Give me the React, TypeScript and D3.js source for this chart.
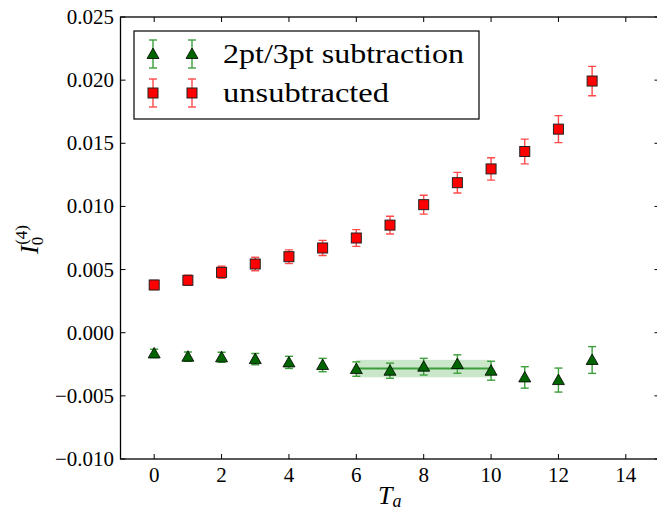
import React from 'react';
import * as d3 from 'd3';

const tValues = [0, 1, 2, 3, 4, 5, 6, 7, 8, 9, 10, 11, 12, 13];
const subtracted = [-0.00164, -0.0019, -0.00195, -0.00209, -0.00235, -0.00256, -0.00288, -0.00301, -0.00269, -0.00248, -0.00301, -0.00354, -0.00375, -0.00216];
const subtractedErr = [0.00033, 0.00037, 0.0004, 0.00045, 0.00048, 0.00053, 0.00057, 0.0006, 0.00066, 0.00073, 0.00075, 0.00085, 0.00095, 0.00106];
const unsubtracted = [0.00378, 0.00415, 0.00478, 0.00544, 0.00602, 0.00671, 0.0075, 0.00852, 0.01014, 0.01188, 0.01297, 0.01435, 0.01612, 0.01993];
const unsubtractedErr = [0.00036, 0.0004, 0.00048, 0.00053, 0.00054, 0.0006, 0.00066, 0.0007, 0.00075, 0.00082, 0.00089, 0.00098, 0.00107, 0.00116];
const fitRange = [6, 10];
const fitValue = -0.00284;
const fitErr = 0.00069;
const xTicks = [0, 2, 4, 6, 8, 10, 12, 14];
const yTicks = [-0.01, -0.005, 0, 0.005, 0.01, 0.015, 0.02, 0.025];
const legendLabels = ['2pt/3pt subtraction', 'unsubtracted'];

const W = 657;
const H = 511;
const font = 'Liberation Serif';

const App = () => {
  const x = d3.scaleLinear().domain([-1, 15]).range([120.5, 659.5]);
  const y = d3.scaleLinear().domain([-0.01, 0.025]).range([459, 17]);
  const [x0, x1] = x.range();
  const [yb, yt] = y.range();

  const fmtY = (v: number) => (v < 0 ? '\u2212' : '') + Math.abs(v).toFixed(3);

  const tri = (cx: number, cy: number, s = 6) =>
    `M${cx},${cy - s} L${cx + s},${cy + s * 0.75} L${cx - s},${cy + s * 0.75} Z`;

  const errBar = (cx: number, lo: number, hi: number, color: string, key: string) => (
    <g key={key} stroke={color} strokeWidth={1.4}>
      <line x1={cx} x2={cx} y1={lo} y2={hi} />
      <line x1={cx - 4} x2={cx + 4} y1={lo} y2={lo} />
      <line x1={cx - 4} x2={cx + 4} y1={hi} y2={hi} />
    </g>
  );

  const greenErr = '#3c9e3c';
  const redErr = '#ff4a4a';

  return (
    <svg width={W} height={H} style={{ position: 'absolute', left: 0, top: 0 }}>
      <rect width={W} height={H} fill="#fff" />
      <defs>
        <clipPath id="plot">
          <rect x={x0} y={yt} width={x1 - x0} height={yb - yt} />
        </clipPath>
      </defs>

      <g clipPath="url(#plot)">
        {/* fit band */}
        <rect
          x={x(fitRange[0])}
          y={y(fitValue + fitErr)}
          width={x(fitRange[1]) - x(fitRange[0])}
          height={y(fitValue - fitErr) - y(fitValue + fitErr)}
          fill="#2ca02c"
          fillOpacity={0.25}
        />
        <line
          x1={x(fitRange[0])}
          x2={x(fitRange[1])}
          y1={y(fitValue)}
          y2={y(fitValue)}
          stroke="#3c9e3c"
          strokeWidth={2}
        />

        {tValues.map((t, i) =>
          errBar(x(t), y(subtracted[i] - subtractedErr[i]), y(subtracted[i] + subtractedErr[i]), greenErr, 'ge' + i)
        )}
        {tValues.map((t, i) => (
          <path key={'gm' + i} d={tri(x(t), y(subtracted[i]))} fill="#006400" stroke="#000" strokeWidth={0.8} />
        ))}

        {tValues.map((t, i) =>
          errBar(x(t), y(unsubtracted[i] - unsubtractedErr[i]), y(unsubtracted[i] + unsubtractedErr[i]), redErr, 're' + i)
        )}
        {tValues.map((t, i) => (
          <rect
            key={'rm' + i}
            x={x(t) - 5}
            y={y(unsubtracted[i]) - 5}
            width={10}
            height={10}
            fill="#ff0000"
            stroke="#222"
            strokeWidth={1}
          />
        ))}
      </g>

      {/* frame */}
      <rect x={x0} y={yt} width={x1 - x0} height={yb - yt} fill="none" stroke="#000" strokeWidth={1.3} />

      {/* ticks */}
      {xTicks.map((t) => (
        <g key={'xt' + t}>
          <line x1={x(t)} x2={x(t)} y1={yb} y2={yb - 5} stroke="#000" />
          <line x1={x(t)} x2={x(t)} y1={yt} y2={yt + 5} stroke="#000" />
          <text x={x(t)} y={482} textAnchor="middle" fontFamily={font} fontSize={21}>
            {t}
          </text>
        </g>
      ))}
      {yTicks.map((v) => (
        <g key={'yt' + v}>
          <line x1={x0} x2={x0 + 5} y1={y(v)} y2={y(v)} stroke="#000" />
          <line x1={x1} x2={x1 - 5} y1={y(v)} y2={y(v)} stroke="#000" />
          <text x={114} y={y(v) + 7} textAnchor="end" fontFamily={font} fontSize={21}>
            {fmtY(v)}
          </text>
        </g>
      ))}

      {/* axis labels */}
      <text x={378} y={504} fontFamily={font} fontSize={26} fontStyle="italic">
        T<tspan fontSize={18} dy={3}>a</tspan>
      </text>
      <text transform="translate(38,254) rotate(-90)" fontFamily={font} fontSize={26} fontStyle="italic">
        I
        <tspan fontSize={17} fontStyle="normal" dy={5}>0</tspan>
        <tspan fontSize={17} fontStyle="normal" dx={-8} dy={-16}>(4)</tspan>
      </text>

      {/* legend */}
      <rect x={134} y={31} width={345} height={88} fill="#fff" stroke="#000" strokeWidth={1.2} />
      {[153, 192].map((lx) => (
        <g key={'lg' + lx}>
          {errBar(lx, 54 + 14, 54 - 14, greenErr, 'lge' + lx)}
          <path d={tri(lx, 54)} fill="#006400" stroke="#000" strokeWidth={0.8} />
          {errBar(lx, 93 + 14, 93 - 14, redErr, 'lre' + lx)}
          <rect x={lx - 5} y={88} width={10} height={10} fill="#ff0000" stroke="#222" strokeWidth={1} />
        </g>
      ))}
      <text x={223} y={63} fontFamily={font} fontSize={27} textLength={241} lengthAdjust="spacingAndGlyphs">
        {legendLabels[0]}
      </text>
      <text x={223} y={102} fontFamily={font} fontSize={27} textLength={166} lengthAdjust="spacingAndGlyphs">
        {legendLabels[1]}
      </text>
    </svg>
  );
};

export default App;
